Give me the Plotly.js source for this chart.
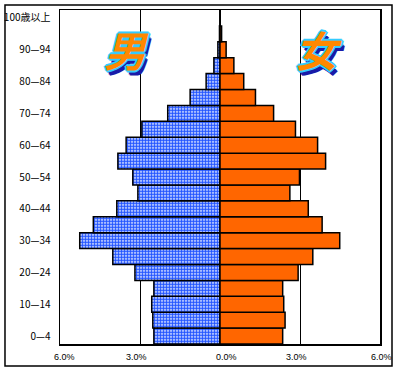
<!DOCTYPE html>
<html>
<head>
<meta charset="utf-8">
<script src="https://cdn.plot.ly/plotly-3.0.1.min.js"></script>
<style>
html,body{margin:0;padding:0;background:#fff;}
#chart{width:397px;height:370px;}
</style>
</head>
<body>
<div id="chart"></div>
<script>
// Age groups, bottom to top
const ageGroups = ['0—4','5—9','10—14','15—19','20—24','25—29','30—34','35—39','40—44','45—49',
  '50—54','55—59','60—64','65—69','70—74','75—79','80—84','85—89','90—94','95—99','100歳以上'];
// Percent of total population
const maleValues = [2.48,2.52,2.56,2.48,3.19,4.02,5.26,4.75,3.87,3.08,
  3.27,3.83,3.52,2.93,1.96,1.12,0.52,0.23,0.08,0.02,0.005];
const femaleValues = [2.35,2.44,2.39,2.35,2.93,3.48,4.49,3.83,3.31,2.62,
  2.98,3.96,3.66,2.83,2.01,1.33,0.89,0.52,0.23,0.06,0.01];
const yTickLabels = ['0—4','10—14','20—24','30—34','40—44','50—54','60—64','70—74','80—84','90—94','100歳以上'];
const xTickVals = [-6,-3,0,3,6];
const xTickText = ['6.0%','3.0%','0.0%','3.0%','6.0%'];
const sexLabels = ['男','女'];

const male = {
  type:'bar', orientation:'h', y:ageGroups, x:maleValues.map(v=>-v),
  marker:{color:'#2a5cff', line:{color:'#000',width:1.5},
    pattern:{shape:'.', fgcolor:'#2456ff', bgcolor:'#ffffff', size:3, solidity:0.7, fillmode:'replace'}},
  hoverinfo:'skip'
};
const female = {
  type:'bar', orientation:'h', y:ageGroups, x:femaleValues,
  marker:{color:'#ff6600', line:{color:'#000',width:1.5}},
  hoverinfo:'skip'
};

const labelShift = [4,-4,6,-4,1];
const annotations = xTickVals.map((v,i)=>({
  x:v, xref:'x', y:-0.039, yref:'paper', yanchor:'middle', xanchor:'center', xshift:labelShift[i],
  text:xTickText[i], showarrow:false, font:{family:'Liberation Sans, Arial', size:9, color:'#000'}
}));
const wordShadow = '1px 1px 0 #33ccff, -1px -1px 0 #33ccff, 1px -1px 0 #33ccff, -1px 1px 0 #33ccff, 2px 0 0 #33ccff, -2px 0 0 #33ccff, 0 2px 0 #33ccff, 0 -2px 0 #33ccff, 3px 5px 0 #1a1aa8, 2px 4px 0 #1a1aa8';
[[-3.5,sexLabels[0]],[3.7,sexLabels[1]]].forEach(([xv,t])=>{
  annotations.push({x:xv, xref:'x', y:0.885, yref:'paper', yanchor:'middle', text:'<i>'+t+'</i>', showarrow:false,
    font:{family:'Noto Sans CJK JP', size:42, weight:700, color:'#ff8800', shadow:wordShadow}});
});

const layout = {
  width:397, height:370,
  margin:{l:60, r:17, t:10, b:26, pad:0},
  paper_bgcolor:'#fff', plot_bgcolor:'#fff',
  barmode:'overlay', bargap:0, showlegend:false,
  xaxis:{range:[-6,6], tickvals:[-3,3], showticklabels:false, showgrid:true, gridcolor:'#000', gridwidth:1,
    zeroline:false, showline:true, linecolor:'#000', linewidth:1.5, mirror:true, ticks:'', fixedrange:true},
  yaxis:{type:'category', categoryorder:'array', categoryarray:ageGroups, tickmode:'array',
    tickvals:yTickLabels, ticktext:yTickLabels, showgrid:false, zeroline:false,
    showline:true, linecolor:'#000', linewidth:1.5, mirror:true, ticks:'', ticklabelstandoff:6,
    tickfont:{family:'Noto Sans CJK JP', size:10, color:'#000'}, range:[-0.5,20.5], fixedrange:true},
  annotations:annotations,
  shapes:[{type:'rect', xref:'paper', yref:'paper', x0:-0.1719, x1:1.0375, y0:-0.0659, y1:1.015,
    line:{color:'#000', width:1.5}, fillcolor:'rgba(0,0,0,0)', layer:'above'}]
};
Plotly.newPlot('chart',[male,female],layout,{staticPlot:true, displayModeBar:false});
</script>
</body>
</html>
